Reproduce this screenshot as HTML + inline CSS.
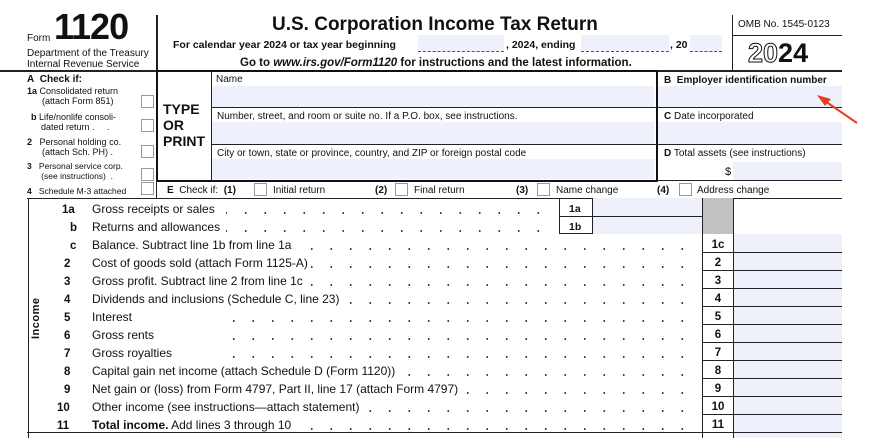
<!DOCTYPE html>
<html><head><meta charset="utf-8"><style>
body{margin:0;width:874px;height:438px;background:#fff;position:relative;overflow:hidden;font-family:"Liberation Sans",Arial,sans-serif;color:#111}
div,span{position:absolute;box-sizing:border-box}
.t{white-space:nowrap;font-size:10.5px;line-height:12px}
.b{font-weight:bold}
.f{background:#eef0fc}
.h{height:1px;background:#222}
.v{width:1px;background:#222}
.cb{width:13px;height:13px;border:1px solid #999;background:#fff}
.dots{height:2px;background-image:radial-gradient(circle,#333 0.8px,transparent 1.1px);background-size:19.5px 2px;background-repeat:repeat-x;background-position:right 0}
</style></head><body>
<span class="t" style="left:27px;top:33px;font-size:10px">Form</span>
<span class="b" style="left:54px;top:9px;font-size:36px;line-height:36px;letter-spacing:-1px">1120</span>
<span class="t" style="left:27px;top:48px;font-size:10px">Department of the Treasury</span>
<span class="t" style="left:27px;top:59px;font-size:10px">Internal Revenue Service</span>
<div class="v" style="left:156px;top:15px;height:55px;width:2px"></div>
<span class="t b" style="left:272px;top:14px;font-size:19px;line-height:22px">U.S. Corporation Income Tax Return</span>
<span class="t b" style="left:173px;top:39px;font-size:10.5px">For calendar year 2024 or tax year beginning</span>
<div class="f" style="left:418px;top:35px;width:86px;height:17px;border-bottom:1px dashed #555"></div>
<span class="t b" style="left:506px;top:39px">, 2024, ending</span>
<div class="f" style="left:581px;top:35px;width:88px;height:17px;border-bottom:1px dashed #555"></div>
<span class="t b" style="left:670px;top:39px">, 20</span>
<div class="f" style="left:690px;top:35px;width:32px;height:17px;border-bottom:1px dashed #555"></div>
<span class="t b" style="left:240px;top:57px;font-size:11.5px">Go to <i>www.irs.gov/Form1120</i> for instructions and the latest information.</span>
<div class="v" style="left:732px;top:15px;height:55px"></div>
<div class="h" style="left:732px;top:35px;width:110px"></div>
<span class="t" style="left:738px;top:19px;font-size:10px">OMB No. 1545-0123</span>
<span class="b" style="left:748px;top:38px;font-size:27px;line-height:30px"><span style="position:static;color:#fff;-webkit-text-stroke:1px #111">20</span>24</span>
<div class="h" style="left:0;top:70px;width:842px;height:2px"></div>
<span class="t b" style="left:27px;top:74px;font-size:10px">A&nbsp; Check if:</span>
<span class="t" style="left:27px;top:86px;font-size:9px;line-height:10px"><b>1a</b> Consolidated return<br>&nbsp;&nbsp;&nbsp;&nbsp;&nbsp;&nbsp;(attach Form 851)</span>
<span class="t" style="left:31px;top:112px;font-size:9px;line-height:10px"><b>b</b> Life/nonlife consoli-<br>&nbsp;&nbsp;&nbsp;&nbsp;dated return .&nbsp;&nbsp;&nbsp;&nbsp; .</span>
<span class="t" style="left:27px;top:137px;font-size:9px;line-height:10px"><b>2</b>&nbsp;&nbsp; Personal holding co.<br>&nbsp;&nbsp;&nbsp;&nbsp;&nbsp; (attach Sch. PH) .</span>
<span class="t" style="left:27px;top:161px;font-size:8.5px;line-height:10px"><b>3</b>&nbsp;&nbsp; Personal service corp.<br>&nbsp;&nbsp;&nbsp;&nbsp;&nbsp; (see instructions)&nbsp; .</span>
<span class="t" style="left:27px;top:185px;font-size:8.5px"><b>4</b>&nbsp;&nbsp; Schedule M-3 attached</span>
<div class="cb" style="left:141px;top:95px"></div>
<div class="cb" style="left:141px;top:119px"></div>
<div class="cb" style="left:141px;top:145px"></div>
<div class="cb" style="left:141px;top:168px"></div>
<div class="cb" style="left:141px;top:182px"></div>
<div style="left:156px;top:70px;width:502px;height:112px;border:2px solid #111"></div>
<div class="v" style="left:211px;top:72px;height:108px"></div>
<span class="t b" style="left:163px;top:101px;font-size:14px;line-height:16px">TYPE<br>OR<br>PRINT</span>
<span class="t" style="left:216px;top:74px;font-size:10px">Name</span>
<div class="f" style="left:212px;top:86px;width:442px;height:21px"></div>
<div class="h" style="left:212px;top:107px;width:444px"></div>
<span class="t" style="left:217px;top:111px;font-size:10px">Number, street, and room or suite no. If a P.O. box, see instructions.</span>
<div class="f" style="left:212px;top:122px;width:442px;height:22px"></div>
<div class="h" style="left:212px;top:144px;width:444px"></div>
<span class="t" style="left:217px;top:148px;font-size:10px">City or town, state or province, country, and ZIP or foreign postal code</span>
<div class="f" style="left:212px;top:159px;width:442px;height:20px"></div>
<span class="t b" style="left:664px;top:75px;font-size:10px">B&nbsp; Employer identification number</span>
<div class="f" style="left:658px;top:86px;width:184px;height:21px"></div>
<div class="h" style="left:658px;top:107px;width:184px"></div>
<span class="t" style="left:664px;top:111px;font-size:10px"><b>C</b> Date incorporated</span>
<div class="f" style="left:658px;top:122px;width:184px;height:22px"></div>
<div class="h" style="left:658px;top:144px;width:184px"></div>
<span class="t" style="left:664px;top:148px;font-size:10px"><b>D</b> Total assets (see instructions)</span>
<span class="t" style="left:725px;top:166px;font-size:11px">$</span>
<div class="f" style="left:733px;top:162px;width:109px;height:18px"></div>
<div class="h" style="left:656px;top:180px;width:186px"></div>
<svg style="position:absolute;left:0;top:0" width="874" height="438"><line x1="857" y1="123" x2="822" y2="99" stroke="#e8401c" stroke-width="2"/><polygon points="817,95 831,99 825,106" fill="#e8401c"/></svg>
<div class="v" style="left:156px;top:180px;height:18px"></div>
<span class="t" style="left:167px;top:185px;font-size:10px"><b>E</b>&nbsp; Check if:&nbsp; <b>(1)</b></span>
<div class="cb" style="left:254px;top:183px"></div><span class="t" style="left:273px;top:185px;font-size:10px">Initial return</span>
<span class="t b" style="left:375px;top:185px;font-size:10px">(2)</span><div class="cb" style="left:395px;top:183px"></div><span class="t" style="left:414px;top:185px;font-size:10px">Final return</span>
<span class="t b" style="left:516px;top:185px;font-size:10px">(3)</span><div class="cb" style="left:537px;top:183px"></div><span class="t" style="left:556px;top:185px;font-size:10px">Name change</span>
<span class="t b" style="left:657px;top:185px;font-size:10px">(4)</span><div class="cb" style="left:679px;top:183px"></div><span class="t" style="left:697px;top:185px;font-size:10px">Address change</span>
<div class="h" style="left:27px;top:198px;width:815px"></div>
<div class="v" style="left:28px;top:198px;height:240px"></div>
<span class="t b" style="font-size:11px;letter-spacing:0.5px;transform:rotate(-90deg);transform-origin:0 0;left:30px;top:339px">Income</span>
<div style="left:559px;top:198px;width:143px;height:36px;border:1px solid #222;border-top:none;border-right:none"></div>
<div class="v" style="left:592px;top:198px;height:36px"></div>
<div class="h" style="left:559px;top:216px;width:143px"></div>
<div class="f" style="left:593px;top:198px;width:109px;height:18px"></div>
<div class="f" style="left:593px;top:217px;width:109px;height:17px"></div>
<span class="t b" style="left:569px;top:203px">1a</span>
<span class="t b" style="left:569px;top:221px">1b</span>
<div style="left:702px;top:198px;width:31px;height:36px;background:#c2c2c2"></div>
<div class="v" style="left:702px;top:198px;height:240px"></div>
<div class="v" style="left:733px;top:198px;height:240px"></div>
<div class="f" style="left:734px;top:234px;width:108px;height:204px"></div>
<div id="rows"></div>
<div class="h" style="left:27px;top:432px;width:815px"></div>
<script>
var R=[["1a","Gross receipts or sales",548,62],["b","Returns and allowances",548,70],["c","Balance. Subtract line 1b from line 1a",692,70,"1c"],["2","Cost of goods sold (attach Form 1125-A)",692,64],["3","Gross profit. Subtract line 2 from line 1c",692,64],["4","Dividends and inclusions (Schedule C, line 23)",692,64],["5","Interest",692,64],["6","Gross rents",692,64],["7","Gross royalties",692,64],["8","Capital gain net income (attach Schedule D (Form 1120))",692,64],["9","Net gain or (loss) from Form 4797, Part II, line 17 (attach Form 4797)",692,64],["10","Other income (see instructions\u2014attach statement)",692,57],["11","<b>Total income.</b> Add lines 3 through 10",692,57]];
var h="";
R.forEach(function(r,i){var y=198+i*18;
h+='<span class="t b" style="left:'+r[3]+'px;top:'+(y+6)+'px;font-size:11.5px">'+r[0]+'</span>';
h+='<div class="dots" style="left:226px;top:'+(y+14)+'px;width:'+(r[2]-226)+'px"></div>';
h+='<span class="t" style="left:92px;top:'+(y+5)+'px;font-size:12px;line-height:13px;background:#fff;padding-right:3px">'+r[1]+'</span>';
if(i>=2){h+='<span class="t b" style="left:706px;top:'+(y+5)+'px;width:24px;text-align:center;font-size:11.5px">'+(r[4]||r[0])+'</span>';
h+='<div class="h" style="left:702px;top:'+(y+18)+'px;width:140px"></div>';}
});
document.getElementById("rows").outerHTML=h;
</script>
</body></html>
